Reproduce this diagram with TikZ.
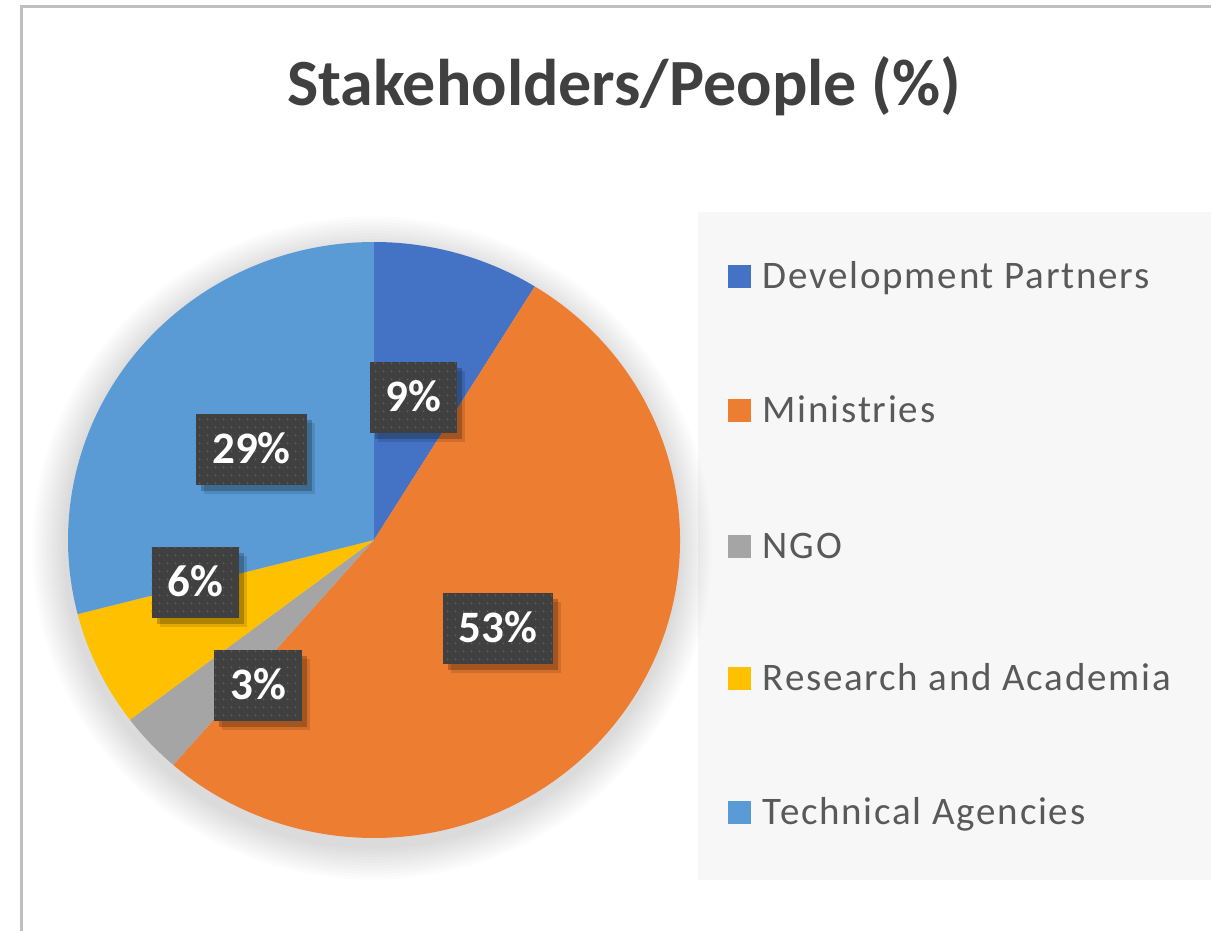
\documentclass[tikz,border=0pt]{standalone}
\usepackage{fontspec}
\setmainfont{Carlito}
\usepackage{tikz}
\usetikzlibrary{positioning,patterns.meta}

\definecolor{cDP}{HTML}{4472C4}
\definecolor{cMin}{HTML}{ED7D31}
\definecolor{cNGO}{HTML}{A5A5A5}
\definecolor{cRes}{HTML}{FFC000}
\definecolor{cTec}{HTML}{5B9BD5}
\definecolor{lblbg}{HTML}{404040}
\definecolor{legbg}{HTML}{F7F7F7}
\definecolor{framecol}{HTML}{BFBFBF}
\definecolor{titlecol}{HTML}{404040}
\definecolor{legcol}{HTML}{595959}

\begin{document}
\begin{tikzpicture}[x=0.5pt, y=-0.5pt,
    title/.style={inner sep=0pt, text=titlecol, font=\fontsize{33}{36}\selectfont\bfseries, text height=21.1pt, text depth=0pt},
    pct/.style={fill=lblbg, text=white, font=\fontsize{22.5}{25}\selectfont\bfseries, inner xsep=8pt, inner ysep=0pt, minimum height=35.5pt, text height=14.3pt, text depth=0pt,
        preaction={fill=black, opacity=0.12, transform canvas={shift={(4pt,-4.5pt)}}},
        preaction={fill=black, opacity=0.22, transform canvas={shift={(2.5pt,-3pt)}}},
        postaction={pattern={Dots[distance=4pt, radius=0.5pt]}, pattern color=white!18!lblbg}},
    legmark/.style={inner sep=0pt, minimum size=11.5pt},
    legtext/.style={inner sep=0pt, text=legcol, font=\fontsize{19.5}{23}\selectfont\addfontfeature{LetterSpace=4.5}, text height=12.5pt, text depth=0pt}]

    \useasboundingbox (0,0) rectangle (1211,931);

    % frame
    \draw[framecol, line width=1.5pt] (21,931) -- (21,7) -- (1211,7);

    \node[title] (ttl) at (624,84) {Stakeholders/People (\%)};

    % legend area
    \fill[legbg] (698,212) rectangle (1211,880);

    % soft shadow round the pie
    \coordinate (pc) at (374,540);
    \foreach \k in {1,...,12}
        \fill[black, opacity=0.011] (372,548) ellipse [x radius=306+2.8*\k, y radius=298+2.8*\k];

    % slices
    \begin{scope}[shift={(pc)}]
        \foreach \a/\b/\col in {-90/-58.3/cDP, -58.3/131/cMin, 131/142.9/cNGO, 142.9/165.6/cRes, 165.6/270/cTec}
            \fill[\col] (0,0) -- (\a:306 and 298) arc[start angle=\a, end angle=\b, x radius=306, y radius=298] -- cycle;
    \end{scope}

    % data labels
    \node[pct] (lDP)  at (413.5,397.5) {9\%};
    \node[pct] (lMin) at (498,628.5) {53\%};
    \node[pct] (lNGO) at (258,685) {3\%};
    \node[pct] (lRes) at (195.5,582) {6\%};
    \node[pct] (lTec) at (251.5,449) {29\%};

    % legend
    \foreach \nm/\col/\y/\txt in {DP/cDP/276/Development Partners, Min/cMin/410/Ministries, NGO/cNGO/546/NGO, Res/cRes/678/Research and Academia, Tec/cTec/812/Technical Agencies} {
        \node[legmark, fill=\col] (m\nm) at (739.5,\y) {};
        \node[legtext, right=5.5pt of m\nm] (t\nm) {\txt};
    }

\end{tikzpicture}
\end{document}
